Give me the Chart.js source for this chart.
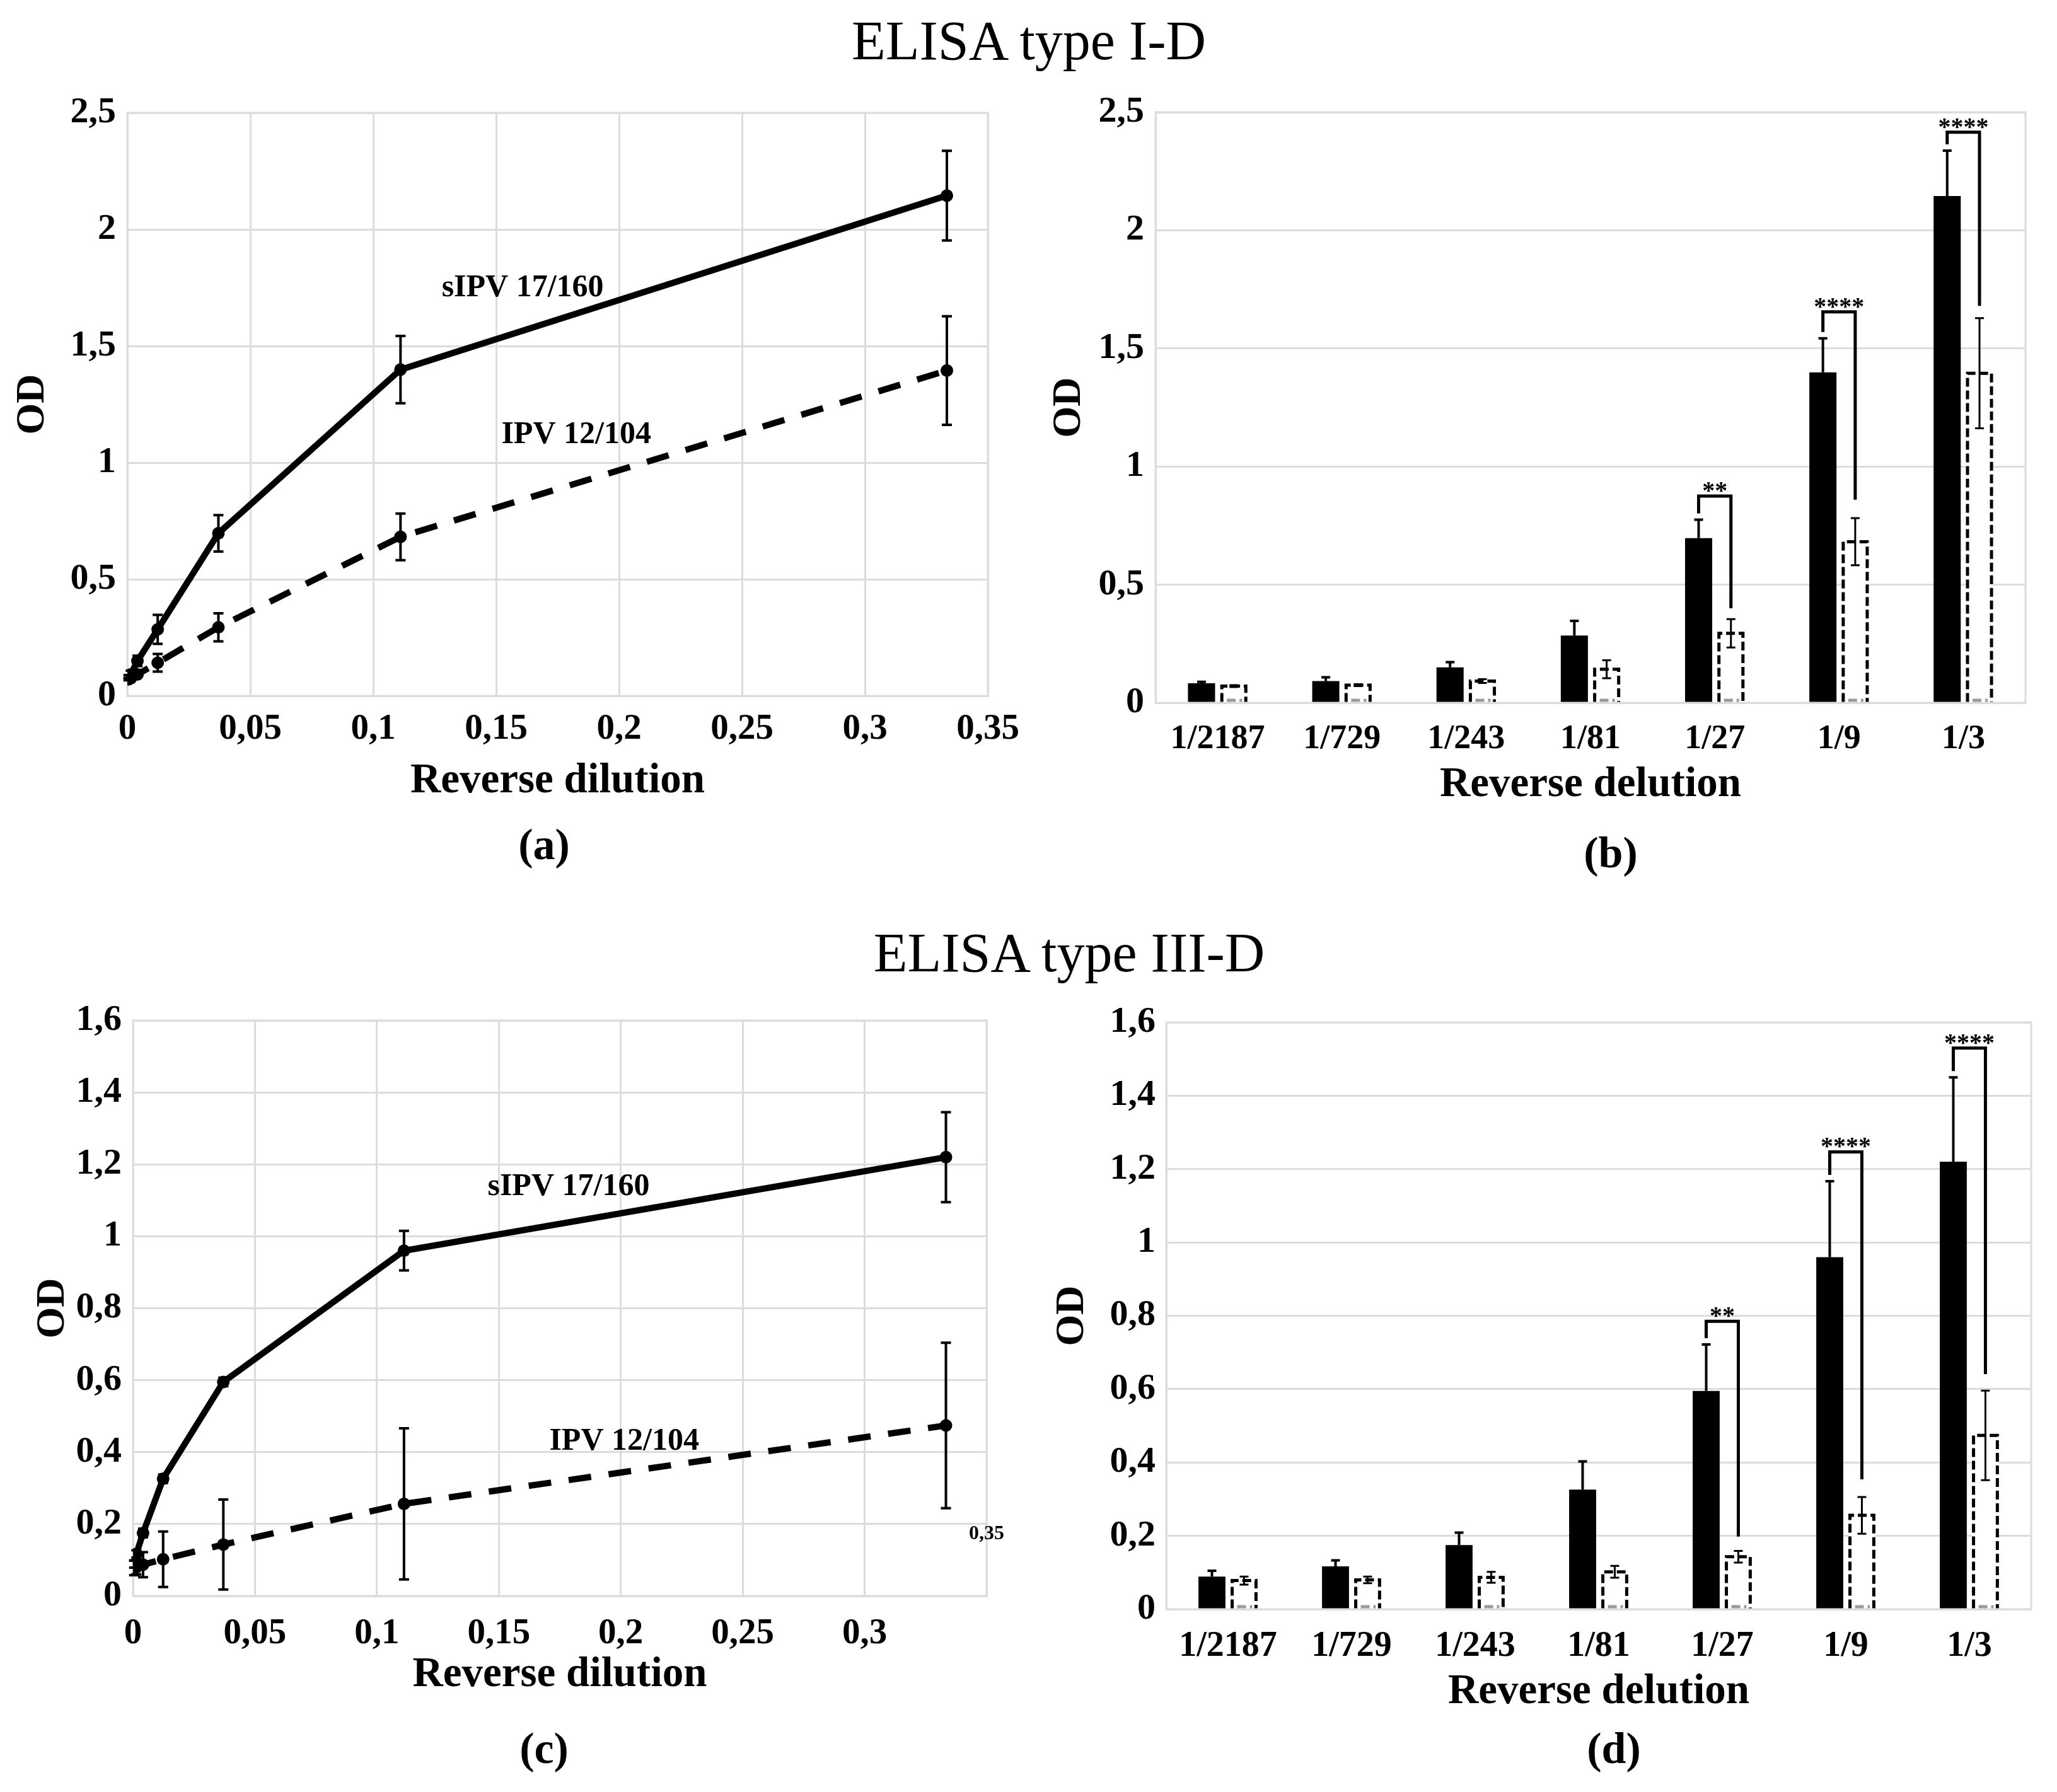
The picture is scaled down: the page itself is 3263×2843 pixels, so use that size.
<!DOCTYPE html>
<html>
<head>
<meta charset="utf-8">
<title>ELISA type I-D / III-D</title>
<script src="https://cdn.jsdelivr.net/npm/chart.js@4.4.1/dist/chart.umd.min.js"></script>
<style>
  html, body { margin: 0; padding: 0; background: #fff; }
  body { position: relative; width: 3263px; height: 2843px; overflow: hidden; font-family: 'Liberation Serif', serif; }
  canvas { position: absolute; }
  .txt { position: absolute; transform: translate(-50%, -50%); line-height: 1; white-space: nowrap; color: #000; }
  .title { font-size: 88px; }
  .panel { font-size: 70px; font-weight: bold; }
</style>
</head>
<body>
<div class="txt title" style="left:1632px; top:65px;">ELISA type I-D</div>
<div class="txt title" style="left:1696px; top:1512px;">ELISA type III-D</div>
<div class="txt panel" style="left:863px; top:1340px;">(a)</div>
<div class="txt panel" style="left:2555px; top:1353px;">(b)</div>
<div class="txt panel" style="left:863px; top:2774px;">(c)</div>
<div class="txt panel" style="left:2560px; top:2774px;">(d)</div>

<canvas id="chartA" width="1650" height="1200" style="left:0; top:100px;"></canvas>
<canvas id="chartB" width="1613" height="1200" style="left:1650px; top:100px;"></canvas>
<canvas id="chartC" width="1650" height="1200" style="left:0; top:1540px;"></canvas>
<canvas id="chartD" width="1613" height="1200" style="left:1650px; top:1540px;"></canvas>

<script>
// dilutions
const dilutionLabels = ['1/2187', '1/729', '1/243', '1/81', '1/27', '1/9', '1/3'];
const dilutionX = [1/2187, 1/729, 1/243, 1/81, 1/27, 1/9, 1/3];

// ELISA type I-D (mean OD and error)
const sipvTypeI    = [0.083, 0.092, 0.150, 0.285, 0.697, 1.399, 2.145];
const sipvTypeIErr = [0.006, 0.016, 0.022, 0.062, 0.078, 0.144, 0.192];
const ipvTypeI     = [0.071, 0.075, 0.092, 0.142, 0.294, 0.682, 1.395];
const ipvTypeIErr  = [0.004, 0.004, 0.008, 0.038, 0.060, 0.100, 0.233];

// ELISA type III-D
const sipvTypeIII        = [0.089, 0.117, 0.175, 0.326, 0.595, 0.960, 1.220];
const ipvTypeIII         = [0.078, 0.080, 0.087, 0.102, 0.143, 0.256, 0.474];
const sipvTypeIIIBarErr  = [0.016, 0.016, 0.034, 0.077, 0.127, 0.207, 0.230];
const ipvTypeIIIBarErr   = [0.011, 0.009, 0.015, 0.016, 0.016, 0.050, 0.122];
const sipvTypeIIILineErr = [0.010, 0.010, 0.012, 0.012, 0.012, 0.055, 0.125];
const ipvTypeIIILineErr  = [0.020, 0.020, 0.035, 0.077, 0.125, 0.210, 0.230];

// significance brackets (category index, bracket top, end of right leg)
const bracketIdx        = [4, 5, 6];
const bracketStars      = ['**', '****', '****'];
const bracketTopTypeI   = [0.875, 1.655, 2.415];
const bracketEndTypeI   = [0.40, 0.86, 1.68];
const bracketTopTypeIII = [0.785, 1.247, 1.53];
const bracketEndTypeIII = [0.198, 0.354, 0.641];

const SERIF = 'Liberation Serif';
Chart.defaults.font.family = SERIF;
Chart.defaults.color = '#000';
const GRID = '#dcdcdc';

function comma(v) {
  return String(+Number(v).toFixed(2)).replace('.', ',');
}

// light frame around the plot area
const framePlugin = {
  id: 'frame',
  beforeDatasetsDraw(chart) {
    const { ctx, chartArea: a } = chart;
    ctx.save();
    ctx.strokeStyle = GRID;
    ctx.lineWidth = 3;
    ctx.strokeRect(a.left, a.top, a.right - a.left, a.bottom - a.top);
    ctx.restore();
  }
};

// white bars with a dashed outline
const dashedBarPlugin = {
  id: 'dashedBars',
  afterDatasetsDraw(chart) {
    const ctx = chart.ctx;
    chart.data.datasets.forEach((ds, di) => {
      if (!ds.dashedOutline) return;
      chart.getDatasetMeta(di).data.forEach(el => {
        const { x, y, base, width } = el.getProps(['x', 'y', 'base', 'width'], true);
        const lw = 5;
        const l = x - width / 2 + lw / 2, r = x + width / 2 - lw / 2;
        ctx.save();
        ctx.lineWidth = lw;
        ctx.setLineDash([14, 6]);
        ctx.strokeStyle = '#000';
        ctx.beginPath();
        ctx.moveTo(l, base);
        ctx.lineTo(l, y);
        ctx.lineTo(r, y);
        ctx.lineTo(r, base);
        ctx.stroke();
        ctx.strokeStyle = '#9a9a9a';
        ctx.beginPath();
        ctx.moveTo(l + 8, base - lw / 2);
        ctx.lineTo(r - 6, base - lw / 2);
        ctx.stroke();
        ctx.restore();
      });
    });
  }
};

// error bars read from dataset.errors
const errorBarPlugin = {
  id: 'errorBars',
  afterDatasetsDraw(chart) {
    const ctx = chart.ctx, yScale = chart.scales.y;
    chart.data.datasets.forEach((ds, di) => {
      if (!ds.errors) return;
      chart.getDatasetMeta(di).data.forEach((el, i) => {
        const raw = ds.data[i];
        const val = typeof raw === 'object' ? raw.y : raw;
        const e = ds.errors[i];
        const yTop = yScale.getPixelForValue(val + e);
        const yBot = yScale.getPixelForValue(ds.errMode === 'up' ? val : val - e);
        const cap = ds.errCap;
        ctx.save();
        ctx.strokeStyle = '#000';
        ctx.lineWidth = ds.errWidth;
        ctx.setLineDash([]);
        ctx.beginPath();
        ctx.moveTo(el.x, yTop);
        ctx.lineTo(el.x, yBot);
        ctx.moveTo(el.x - cap, yTop);
        ctx.lineTo(el.x + cap, yTop);
        if (ds.errMode !== 'up') {
          ctx.moveTo(el.x - cap, yBot);
          ctx.lineTo(el.x + cap, yBot);
        }
        ctx.stroke();
        ctx.restore();
      });
    });
  }
};

// significance brackets with stars
const bracketPlugin = {
  id: 'brackets',
  afterDatasetsDraw(chart, args, opts) {
    if (!opts.idx) return;
    const ctx = chart.ctx, y = chart.scales.y;
    const m0 = chart.getDatasetMeta(0), m1 = chart.getDatasetMeta(1);
    const d0 = chart.data.datasets[0];
    opts.idx.forEach((ci, k) => {
      const x0 = m0.data[ci].x, x1 = m1.data[ci].x;
      const yStart = y.getPixelForValue(d0.data[ci] + d0.errors[ci]) - 10;
      const yTop = y.getPixelForValue(opts.top[k]);
      const yEnd = y.getPixelForValue(opts.end[k]);
      ctx.save();
      ctx.strokeStyle = '#000';
      ctx.lineWidth = 5;
      ctx.beginPath();
      ctx.moveTo(x0, yStart);
      ctx.lineTo(x0, yTop);
      ctx.lineTo(x1, yTop);
      ctx.lineTo(x1, yEnd);
      ctx.stroke();
      ctx.fillStyle = '#000';
      ctx.font = 'bold 40px "' + SERIF + '"';
      ctx.textAlign = 'center';
      ctx.textBaseline = 'alphabetic';
      ctx.fillText(opts.stars[k], (x0 + x1) / 2, yTop + 4);
      ctx.restore();
    });
  }
};

// text placed at data coordinates
const notesPlugin = {
  id: 'notes',
  afterDatasetsDraw(chart, args, opts) {
    if (!opts.items) return;
    const ctx = chart.ctx;
    opts.items.forEach(n => {
      ctx.save();
      ctx.fillStyle = '#000';
      ctx.font = 'bold ' + n.size + 'px "' + SERIF + '"';
      ctx.textAlign = 'center';
      ctx.textBaseline = 'middle';
      ctx.fillText(n.text, chart.scales.x.getPixelForValue(n.x), chart.scales.y.getPixelForValue(n.y));
      ctx.restore();
    });
  }
};

function yAxis(max, step, g) {
  return {
    min: 0, max: max,
    ticks: { stepSize: step, padding: g.yTickPad, font: { size: 58, weight: 'bold' }, callback: v => comma(v) },
    grid: { color: GRID, lineWidth: 3, drawTicks: false },
    border: { display: true, color: GRID, width: 3 },
    title: { display: true, text: 'OD', font: { size: 64, weight: 'bold' }, padding: { top: g.odPad, bottom: 0 } },
    afterFit: s => { s.width = g.yWidth; }
  };
}

function makeLineChart(id, sipv, sipvErr, ipv, ipvErr, yMax, yStep, notes, g) {
  return new Chart(document.getElementById(id), {
    type: 'line',
    data: {
      datasets: [
        {
          label: 'sIPV 17/160',
          data: dilutionX.map((x, i) => ({ x: x, y: sipv[i] })),
          borderColor: '#000', backgroundColor: '#000', borderWidth: 10,
          pointRadius: 10, pointBackgroundColor: '#000', pointBorderWidth: 0, tension: 0,
          errors: sipvErr, errMode: 'both', errWidth: 4, errCap: 8
        },
        {
          label: 'IPV 12/104',
          data: dilutionX.map((x, i) => ({ x: x, y: ipv[i] })),
          borderColor: '#000', backgroundColor: '#000', borderWidth: 10, borderDash: [36, 28],
          pointRadius: 10, pointBackgroundColor: '#000', pointBorderWidth: 0, tension: 0,
          errors: ipvErr, errMode: 'both', errWidth: 4, errCap: 8
        }
      ]
    },
    options: {
      responsive: false, animation: false, devicePixelRatio: 1,
      layout: { padding: { top: g.padTop, right: g.padRight, left: 0, bottom: 0 } },
      scales: {
        x: {
          type: 'linear', min: 0, max: 0.35,
          ticks: {
            stepSize: 0.05, padding: g.xTickPad, font: { size: 57, weight: 'bold' },
            callback: v => (g.hideLastX && v >= 0.349) ? '' : comma(v)
          },
          grid: { color: GRID, lineWidth: 3, drawTicks: false },
          border: { display: true, color: GRID, width: 3 },
          title: { display: true, text: 'Reverse dilution', font: { size: 67, weight: 'bold' }, padding: { top: 0, bottom: g.xTitlePad } },
          afterFit: s => { s.height = g.xHeight; }
        },
        y: yAxis(yMax, yStep, g)
      },
      plugins: { legend: { display: false }, tooltip: { enabled: false }, notes: { items: notes } }
    },
    plugins: [framePlugin, errorBarPlugin, notesPlugin]
  });
}

function makeBarChart(id, sipv, sipvErr, ipv, ipvErr, yMax, yStep, brTop, brEnd, g) {
  return new Chart(document.getElementById(id), {
    type: 'bar',
    data: {
      labels: dilutionLabels,
      datasets: [
        {
          label: 'sIPV 17/160', data: sipv, backgroundColor: '#000', borderWidth: 0,
          categoryPercentage: 0.52, barPercentage: 0.84,
          errors: sipvErr, errMode: 'up', errWidth: 4, errCap: 7
        },
        {
          label: 'IPV 12/104', data: ipv, backgroundColor: '#fff', borderWidth: 0,
          categoryPercentage: 0.52, barPercentage: 0.84, dashedOutline: true,
          errors: ipvErr, errMode: 'both', errWidth: 3, errCap: 7
        }
      ]
    },
    options: {
      responsive: false, animation: false, devicePixelRatio: 1,
      layout: { padding: { top: g.padTop, right: g.padRight, left: 0, bottom: 0 } },
      scales: {
        x: {
          ticks: { padding: g.xTickPad, font: { size: g.catSize, weight: 'bold' } },
          grid: { display: false },
          border: { display: true, color: GRID, width: 3 },
          title: { display: true, text: 'Reverse delution', font: { size: 67, weight: 'bold' }, padding: { top: 0, bottom: g.xTitlePad } },
          afterFit: s => { s.height = g.xHeight; }
        },
        y: yAxis(yMax, yStep, g)
      },
      plugins: {
        legend: { display: false }, tooltip: { enabled: false },
        brackets: { idx: bracketIdx, top: brTop, end: brEnd, stars: bracketStars }
      }
    },
    plugins: [framePlugin, dashedBarPlugin, errorBarPlugin, bracketPlugin]
  });
}

// (a)
makeLineChart('chartA', sipvTypeI, sipvTypeIErr, ipvTypeI, ipvTypeIErr, 2.5, 0.5, [
  { text: 'sIPV 17/160', x: 0.1608, y: 1.749, size: 50 },
  { text: 'IPV 12/104', x: 0.1826, y: 1.119, size: 50 }
], { padTop: 79, padRight: 83, yWidth: 202, xHeight: 196, yTickPad: 18, xTickPad: 19, xTitlePad: 20, odPad: 14 });

// (b)
makeBarChart('chartB', sipvTypeI, sipvTypeIErr, ipvTypeI, ipvTypeIErr, 2.5, 0.5, bracketTopTypeI, bracketEndTypeI,
  { padTop: 78, padRight: 50, yWidth: 183, xHeight: 185, yTickPad: 18, xTickPad: 18, xTitlePad: 14, odPad: 8, catSize: 54 });

// (c)
makeLineChart('chartC', sipvTypeIII, sipvTypeIIILineErr, ipvTypeIII, ipvTypeIIILineErr, 1.6, 0.2, [
  { text: 'sIPV 17/160', x: 0.1786, y: 1.137, size: 50 },
  { text: 'IPV 12/104', x: 0.2014, y: 0.429, size: 50 },
  { text: '0,35', x: 0.35, y: 0.173, size: 32 }
], { padTop: 79, padRight: 85, yWidth: 211, xHeight: 208, yTickPad: 18, xTickPad: 26, xTitlePad: 42, odPad: 46, hideLastX: true });

// (d)
makeBarChart('chartD', sipvTypeIII, sipvTypeIIIBarErr, ipvTypeIII, ipvTypeIIIBarErr, 1.6, 0.2, bracketTopTypeIII, bracketEndTypeIII,
  { padTop: 82, padRight: 41, yWidth: 200, xHeight: 187, yTickPad: 17, xTickPad: 18, xTitlePad: 15, odPad: 13, catSize: 56 });
</script>
</body>
</html>
